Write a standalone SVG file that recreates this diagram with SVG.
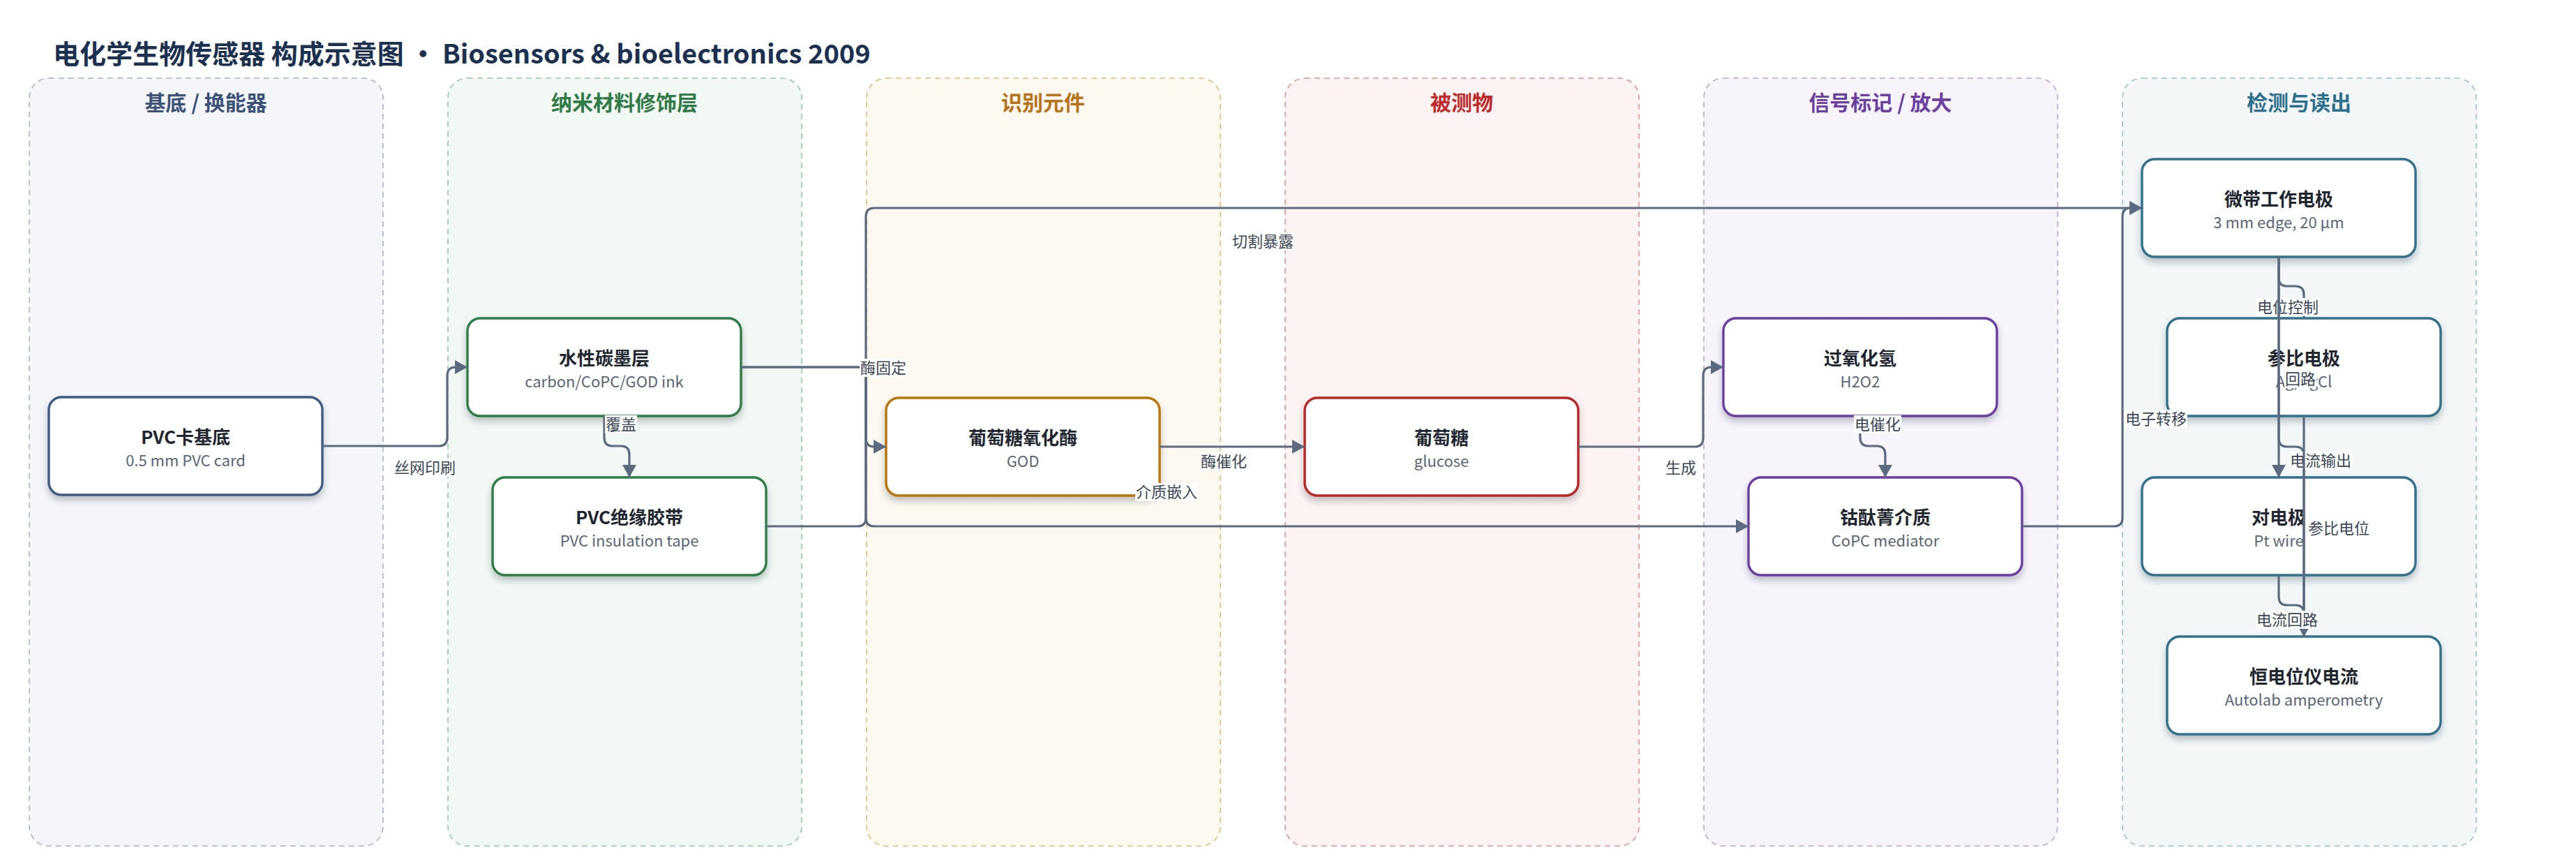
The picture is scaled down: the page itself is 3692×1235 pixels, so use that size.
<svg xmlns="http://www.w3.org/2000/svg" width="3692" height="1235" viewBox="0 0 3692 1235">
<defs>
<filter id="sh" x="-10%" y="-10%" width="120%" height="135%">
<feDropShadow dx="0" dy="6" stdDeviation="5" flood-color="#1e2a3a" flood-opacity="0.28"/>
</filter>
<marker id="arr" viewBox="0 0 18 20" refX="18" refY="10" markerWidth="18" markerHeight="20" markerUnits="userSpaceOnUse" orient="auto">
<path d="M0,0 L18,10 L0,20 z" fill="#5b6a7e"/>
</marker>
<style>
text{font-family:"Noto Sans CJK SC","Noto Sans",sans-serif}
.lane{stroke-width:1.6;stroke-dasharray:8 6}
.lh{font-size:30px;font-weight:700;text-anchor:middle}
.node rect{fill:#fff;stroke-width:3.4;filter:url(#sh)}
.t{font-size:26px;font-weight:700;fill:#1f2630;text-anchor:middle}
.s{font-size:22px;fill:#5b6575;text-anchor:middle}
.e{fill:none;stroke:#5b6a7e;stroke-width:3.2}
.ea{marker-end:url(#arr)}
.lb{fill:#fff}
.lt{font-size:22px;fill:#3c4656;text-anchor:middle}
</style>
</defs>
<rect width="3692" height="1235" fill="#fff"/>
<text x="76" y="91" font-size="38" font-weight="700" fill="#1c3150">电化学生物传感器 构成示意图 · Biosensors &amp; bioelectronics 2009</text>

<g id="lanes">
<rect class="lane" x="42" y="112" width="507" height="1100" rx="28" fill="#f5f6fa" stroke="#a7b3c6"/>
<rect class="lane" x="642" y="112" width="507" height="1100" rx="28" fill="#f2f8f4" stroke="#98c4a6"/>
<rect class="lane" x="1242" y="112" width="507" height="1100" rx="28" fill="#fdf8f0" stroke="#e2bb7c"/>
<rect class="lane" x="1842" y="112" width="507" height="1100" rx="28" fill="#fdf3f2" stroke="#e29393"/>
<rect class="lane" x="2442" y="112" width="507" height="1100" rx="28" fill="#f7f4fb" stroke="#bba4d8"/>
<rect class="lane" x="3042" y="112" width="507" height="1100" rx="28" fill="#f3f7f8" stroke="#99bfcc"/>
<text class="lh" x="295" y="158" fill="#3d5278">基底 / 换能器</text>
<text class="lh" x="895" y="158" fill="#2f7a46">纳米材料修饰层</text>
<text class="lh" x="1495" y="158" fill="#b8721a">识别元件</text>
<text class="lh" x="2095" y="158" fill="#c0282a">被测物</text>
<text class="lh" x="2695" y="158" fill="#6a3fa0">信号标记 / 放大</text>
<text class="lh" x="3295" y="158" fill="#2e6f8e">检测与读出</text>
</g>

<g id="n1" class="node"><rect x="70" y="569" width="392" height="140" rx="18" stroke="#3f5a82"/><text class="t" x="266" y="636">PVC卡基底</text><text class="s" x="266" y="668">0.5 mm PVC card</text></g>
<g id="n2" class="node"><rect x="670" y="456" width="392" height="140" rx="18" stroke="#2e7d46"/><text class="t" x="866" y="523">水性碳墨层</text><text class="s" x="866" y="555">carbon/CoPC/GOD ink</text></g>
<g id="n3" class="node"><rect x="706" y="684" width="392" height="140" rx="18" stroke="#2e7d46"/><text class="t" x="902" y="751">PVC绝缘胶带</text><text class="s" x="902" y="783">PVC insulation tape</text></g>
<g id="n4" class="node"><rect x="1270" y="570" width="392" height="140" rx="18" stroke="#b8740e"/><text class="t" x="1466" y="637">葡萄糖氧化酶</text><text class="s" x="1466" y="669">GOD</text></g>
<g id="n5" class="node"><rect x="1870" y="570" width="392" height="140" rx="18" stroke="#b8282a"/><text class="t" x="2066" y="637">葡萄糖</text><text class="s" x="2066" y="669">glucose</text></g>
<g id="n6" class="node"><rect x="2470" y="456" width="392" height="140" rx="18" stroke="#6a3ea1"/><text class="t" x="2666" y="523">过氧化氢</text><text class="s" x="2666" y="555">H2O2</text></g>
<g id="n7" class="node"><rect x="2506" y="684" width="392" height="140" rx="18" stroke="#6a3ea1"/><text class="t" x="2702" y="751">钴酞菁介质</text><text class="s" x="2702" y="783">CoPC mediator</text></g>
<g id="n8" class="node"><rect x="3070" y="228" width="392" height="140" rx="18" stroke="#316f8c"/><text class="t" x="3266" y="295">微带工作电极</text><text class="s" x="3266" y="327">3 mm edge, 20 µm</text></g>
<g id="n9" class="node"><rect x="3106" y="456" width="392" height="140" rx="18" stroke="#316f8c"/><text class="t" x="3302" y="523">参比电极</text><text class="s" x="3302" y="555">Ag/AgCl</text></g>
<g id="n10" class="node"><rect x="3070" y="684" width="392" height="140" rx="18" stroke="#316f8c"/><text class="t" x="3266" y="751">对电极</text><text class="s" x="3266" y="783">Pt wire</text></g>
<g id="n11" class="node"><rect x="3106" y="912" width="392" height="140" rx="18" stroke="#316f8c"/><text class="t" x="3302" y="979">恒电位仪电流</text><text class="s" x="3302" y="1011">Autolab amperometry</text></g>

<g id="connectors">
<path class="e ea" d="M462,639 L629,639 Q641,639 641,627 L641,538 Q641,526 653,526 L670,526"/>
<rect class="lb" x="564" y="657" width="90" height="26"/><text class="lt" x="609" y="678">丝网印刷</text>

<path class="e ea" d="M866,596 L866,627 Q866,639 878,639 L890,639 Q902,639 902,651 L902,684"/>
<rect class="lb" x="867" y="595" width="46" height="26"/><text class="lt" x="890" y="616">覆盖</text>

<path class="e ea" d="M1098,754 L1229,754 Q1241,754 1241,742 L1241,310 Q1241,298 1253,298 L3070,298"/>
<rect class="lb" x="1765" y="333" width="90" height="26"/><text class="lt" x="1810" y="354">切割暴露</text>

<path class="e ea" d="M1062,526 L1229,526 Q1241,526 1241,538 L1241,742 Q1241,754 1253,754 L2506,754"/>
<path class="e ea" d="M1062,526 L1229,526 Q1241,526 1241,538 L1241,628 Q1241,640 1253,640 L1270,640"/>
<rect class="lb" x="1232" y="514" width="68" height="26"/><text class="lt" x="1266" y="535">酶固定</text>
<rect class="lb" x="1627" y="692" width="90" height="26"/><text class="lt" x="1672" y="713">介质嵌入</text>

<path class="e ea" d="M1662,640 L1870,640"/>
<rect class="lb" x="1720" y="648" width="68" height="26"/><text class="lt" x="1754" y="669">酶催化</text>

<path class="e ea" d="M2262,640 L2429,640 Q2441,640 2441,628 L2441,538 Q2441,526 2453,526 L2470,526"/>
<rect class="lb" x="2386" y="657" width="46" height="26"/><text class="lt" x="2409" y="678">生成</text>

<path class="e ea" d="M2666,596 L2666,627 Q2666,639 2678,639 L2690,639 Q2702,639 2702,651 L2702,684"/>
<rect class="lb" x="2657" y="595" width="68" height="26"/><text class="lt" x="2691" y="616">电催化</text>

<path class="e ea" d="M2898,754 L3030,754 Q3042,754 3042,742 L3042,310 Q3042,298 3054,298 L3070,298"/>
<rect class="lb" x="3045" y="587" width="90" height="26"/><text class="lt" x="3090" y="608">电子转移</text>

<path class="e ea" d="M3266,368 L3266,398 Q3266,410 3278,410 L3290,410 Q3302,410 3302,422 L3302,456"/>
<rect class="lb" x="3234" y="427" width="90" height="26"/><text class="lt" x="3279" y="448">电位控制</text>

<rect class="lb" x="3274" y="530" width="46" height="26"/><text class="lt" x="3297" y="551">回路</text>
<path class="e ea" d="M3266,368 L3266,684"/>

<path class="e ea" d="M3266,368 L3266,628 Q3266,640 3278,640 L3290,640 Q3302,640 3302,652 L3302,912"/>
<rect class="lb" x="3281" y="647" width="90" height="26"/><text class="lt" x="3326" y="668">电流输出</text>

<path class="e ea" d="M3302,596 L3302,912"/>
<text class="lt" x="3352" y="765">参比电位</text>

<path class="e ea" d="M3266,824 L3266,855 Q3266,867 3278,867 L3290,867 Q3302,867 3302,879 L3302,912"/>
<rect class="lb" x="3233" y="875" width="90" height="26"/><text class="lt" x="3278" y="896">电流回路</text>
</g>
</svg>
